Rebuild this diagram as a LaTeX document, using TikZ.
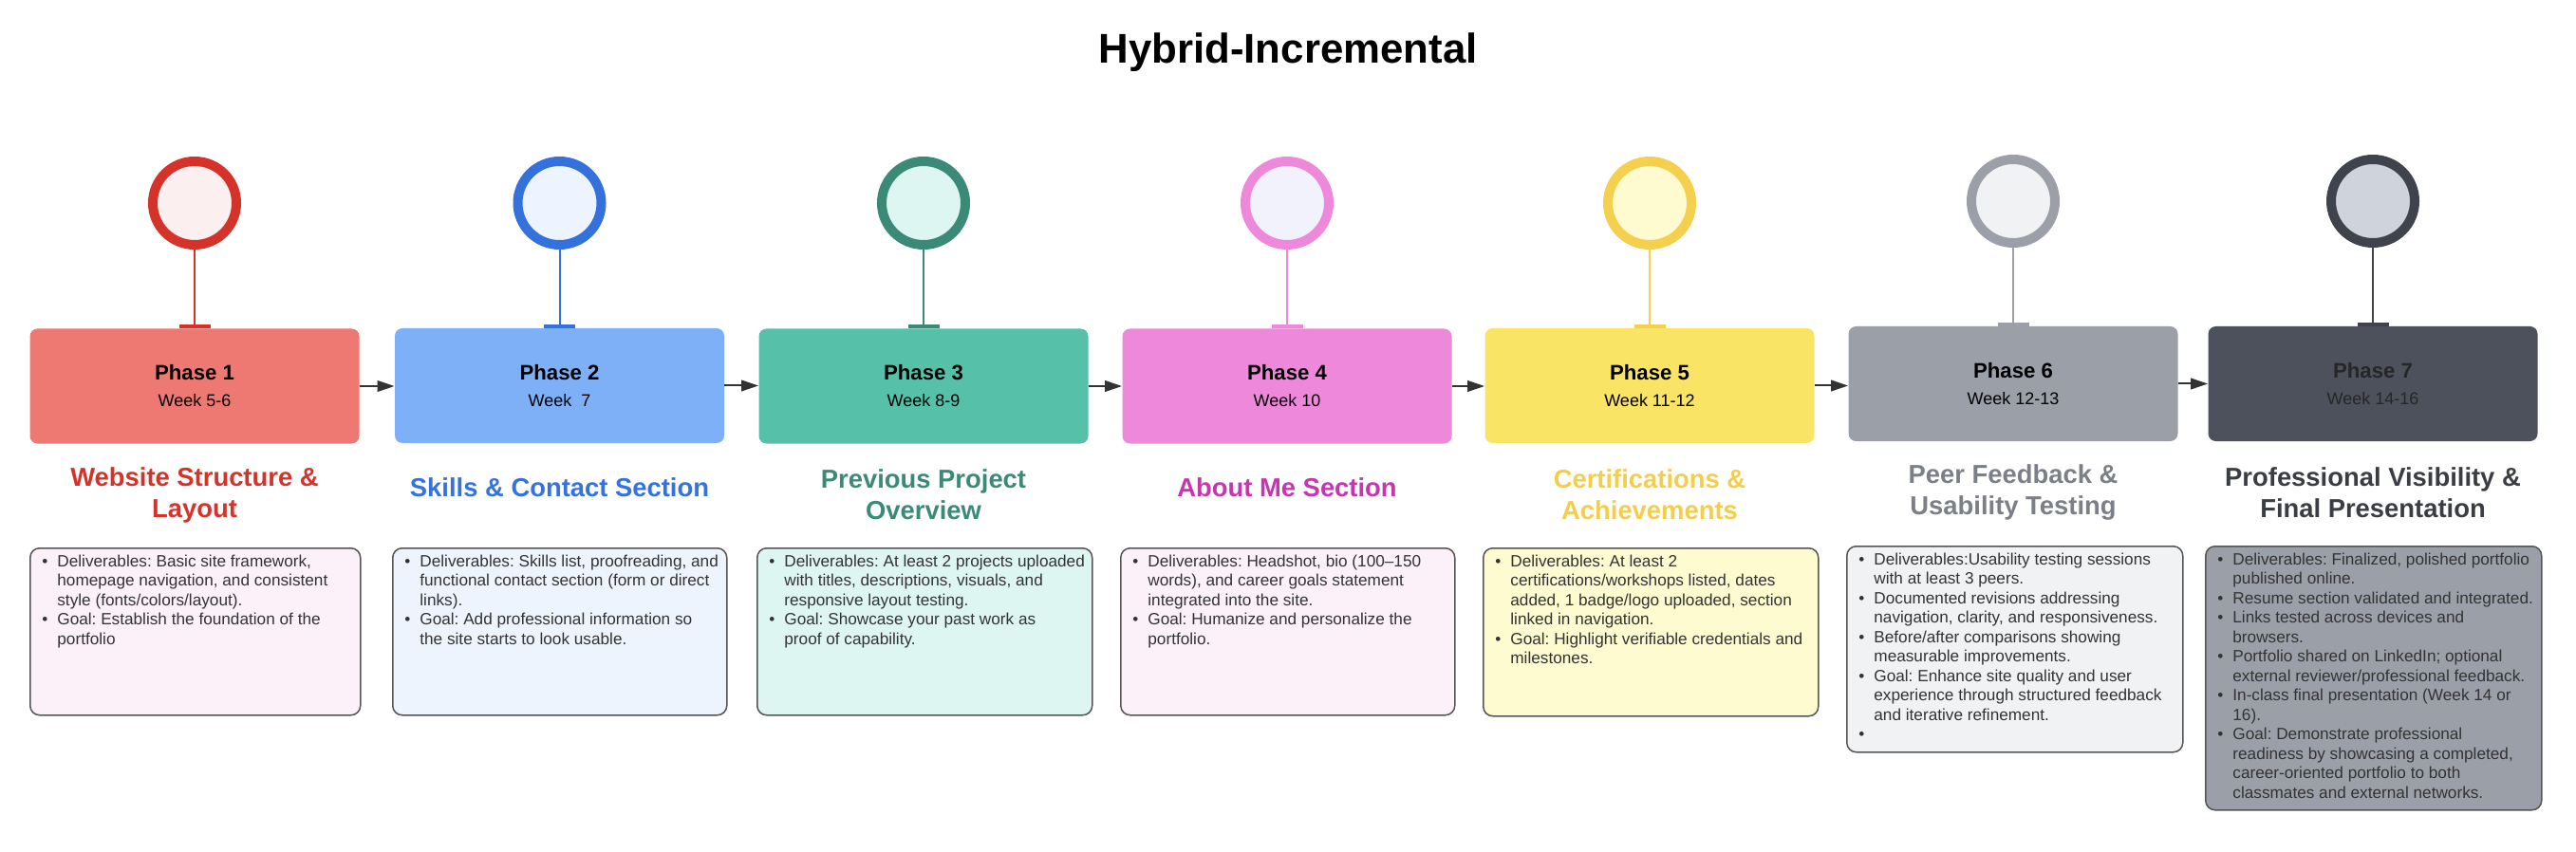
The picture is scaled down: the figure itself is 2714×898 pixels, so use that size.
\documentclass[tikz,border=0pt]{standalone}
\usepackage{fontspec}
\setmainfont{Liberation Sans}
\usetikzlibrary{arrows.meta}
% phase colours: s=stroke, f=circle fill, b=box fill, h=heading, d=desc fill
\definecolor{s1}{HTML}{D5332A}\definecolor{f1}{HTML}{FCEFEF}\definecolor{b1}{HTML}{EE7872}\definecolor{h1}{HTML}{D5332A}\definecolor{d1}{HTML}{FCF0F9}
\definecolor{s2}{HTML}{3471DC}\definecolor{f2}{HTML}{EDF4FF}\definecolor{b2}{HTML}{7EB0F8}\definecolor{h2}{HTML}{3572DD}\definecolor{d2}{HTML}{EEF4FE}
\definecolor{s3}{HTML}{3A8A77}\definecolor{f3}{HTML}{DEF6F2}\definecolor{b3}{HTML}{57C0A9}\definecolor{h3}{HTML}{3A8A77}\definecolor{d3}{HTML}{DDF6F2}
\definecolor{s4}{HTML}{EE88DA}\definecolor{f4}{HTML}{F2F2FD}\definecolor{b4}{HTML}{EE88DB}\definecolor{h4}{HTML}{C636B0}\definecolor{d4}{HTML}{FCF0F9}
\definecolor{s5}{HTML}{F5D04E}\definecolor{f5}{HTML}{FEFBD0}\definecolor{b5}{HTML}{FAE466}\definecolor{h5}{HTML}{F4CE4A}\definecolor{d5}{HTML}{FDFBCF}
\definecolor{s6}{HTML}{9B9FA7}\definecolor{f6}{HTML}{F1F2F4}\definecolor{b6}{HTML}{9B9FA8}\definecolor{h6}{HTML}{7B7F88}\definecolor{d6}{HTML}{F1F2F4}
\definecolor{s7}{HTML}{3F434B}\definecolor{f7}{HTML}{CFD3DC}\definecolor{b7}{HTML}{4D515B}\definecolor{h7}{HTML}{3A3D44}\definecolor{d7}{HTML}{9B9FA8}
\definecolor{arrowgray}{HTML}{333333}
\definecolor{txtgray}{HTML}{333333}
\definecolor{bordergray}{HTML}{555555}
\frenchspacing
\newcommand\bl{\makebox[8pt][l]{•}}
\newcommand\cl{\hspace*{8pt}}
\newcommand\dtext[1]{\parbox[t]{250pt}{\frenchspacing\raggedright #1}}
\begin{document}
\begin{tikzpicture}[x=0.5pt,y=-0.5pt,
  titlenode/.style={font=\bfseries\fontsize{21.9pt}{26pt}\selectfont, inner sep=0},
  milestone/.style={circle, line width=5pt, minimum size=44pt, inner sep=0},
  phasebox/.style={rectangle, rounded corners=4pt, minimum width=173.5pt, minimum height=60.5pt, inner sep=0, align=center, font=\fontsize{9pt}{14pt}\selectfont},
  stemline/.style={line width=1pt, -{Bar[width=16.5pt,line width=1.8pt]}},
  arr/.style={draw=arrowgray, line width=1pt, -{Triangle[length=9pt,width=5.8pt]}},
  heading/.style={font=\bfseries\fontsize{13.7pt}{16.5pt}\selectfont, align=center, inner sep=0},
  descbox/.style={rectangle, draw=bordergray, line width=0.75pt, rounded corners=5pt, anchor=north west, inner sep=0},
  desctext/.style={anchor=base west, inner sep=0, text=txtgray, font=\fontsize{8.6pt}{10.25pt}\selectfont}
]
\useasboundingbox[fill=white] (0,0) rectangle (2714,898);

\node[titlenode, anchor=base] (title) at (1357,67) {Hybrid-Incremental};

% milestones (circles)
\node[milestone, draw=s1, fill=f1] (c1) at (205,214) {};
\node[milestone, draw=s2, fill=f2] (c2) at (589.5,214) {};
\node[milestone, draw=s3, fill=f3] (c3) at (973,214) {};
\node[milestone, draw=s4, fill=f4] (c4) at (1356,214) {};
\node[milestone, draw=s5, fill=f5] (c5) at (1738,214) {};
\node[milestone, draw=s6, fill=f6] (c6) at (2121,212) {};
\node[milestone, draw=s7, fill=f7] (c7) at (2500,212) {};

% phase boxes
\node[phasebox, fill=b1] (p1) at (205,407) {{\bfseries\fontsize{11.1pt}{14pt}\selectfont Phase 1}\\Week 5-6};
\node[phasebox, fill=b2] (p2) at (589.5,406.5) {{\bfseries\fontsize{11.1pt}{14pt}\selectfont Phase 2}\\Week\ \ 7};
\node[phasebox, fill=b3] (p3) at (973,407) {{\bfseries\fontsize{11.1pt}{14pt}\selectfont Phase 3}\\Week 8-9};
\node[phasebox, fill=b4] (p4) at (1356,407) {{\bfseries\fontsize{11.1pt}{14pt}\selectfont Phase 4}\\Week 10};
\node[phasebox, fill=b5] (p5) at (1738,406.5) {{\bfseries\fontsize{11.1pt}{14pt}\selectfont Phase 5}\\Week 11-12};
\node[phasebox, fill=b6] (p6) at (2121,404.5) {{\bfseries\fontsize{11.1pt}{14pt}\selectfont Phase 6}\\Week 12-13};
\node[phasebox, fill=b7, text=black!85] (p7) at (2500,404.5) {{\bfseries\fontsize{11.1pt}{14pt}\selectfont Phase 7}\\Week 14-16};

% stems
\draw[stemline, draw=s1] (c1.south) -- (p1.north);
\draw[stemline, draw=s2] (c2.south) -- (p2.north);
\draw[stemline, draw=s3] (c3.south) -- (p3.north);
\draw[stemline, draw=s4] (c4.south) -- (p4.north);
\draw[stemline, draw=s5] (c5.south) -- (p5.north);
\draw[stemline, draw=s6] (c6.south) -- (p6.north);
\draw[stemline, draw=s7] (c7.south) -- (p7.north);

% arrows between phases
\draw[arr] (p1.east) -- (p1.east -| p2.west);
\draw[arr] (p2.east) -- (p2.east -| p3.west);
\draw[arr] (p3.east) -- (p3.east -| p4.west);
\draw[arr] (p4.east) -- (p4.east -| p5.west);
\draw[arr] (p5.east) -- (p5.east -| p6.west);
\draw[arr] (p6.east) -- (p6.east -| p7.west);

% headings
\node[heading, text=h1] (h1n) at (205,521.5) {Website Structure \&\\Layout};
\node[heading, text=h2] (h2n) at (589.5,514) {Skills \& Contact Section};
\node[heading, text=h3] (h3n) at (973,521) {Previous Project\\Overview};
\node[heading, text=h4] (h4n) at (1356,514) {About Me Section};
\node[heading, text=h5] (h5n) at (1738,521) {Certifications \&\\Achievements};
\node[heading, text=h6] (h6n) at (2121,519) {Peer Feedback \&\\Usability Testing};
\node[heading, text=h7] (h7n) at (2500,519) {Professional Visibility \&\\Final Presentation};

% description boxes
\node[descbox, fill=d1, minimum width=174pt, minimum height=88pt] (d1n) at (31,577) {};
\node[descbox, fill=d2, minimum width=176pt, minimum height=88pt] (d2n) at (413,577) {};
\node[descbox, fill=d3, minimum width=176.5pt, minimum height=88pt] (d3n) at (797,577) {};
\node[descbox, fill=d4, minimum width=176pt, minimum height=88pt] (d4n) at (1180,577) {};
\node[descbox, fill=d5, minimum width=176.5pt, minimum height=88.5pt] (d5n) at (1562,577) {};
\node[descbox, fill=d6, minimum width=177pt, minimum height=108.5pt] (d6n) at (1945,575) {};
\node[descbox, fill=d7, minimum width=177pt, minimum height=139pt] (d7n) at (2323,575) {};

% description texts
\node[desctext] (t1) at (44,597) {\dtext{\bl Deliverables: Basic site framework,\\
\cl homepage navigation, and consistent\\
\cl style (fonts/colors/layout).\\
\bl Goal: Establish the foundation of the\\
\cl portfolio}};
\node[desctext] (t2) at (426,597) {\dtext{\bl Deliverables: Skills list, proofreading, and\\
\cl functional contact section (form or direct\\
\cl links).\\
\bl Goal: Add professional information so\\
\cl the site starts to look usable.}};
\node[desctext] (t3) at (810,597) {\dtext{\bl Deliverables: At least 2 projects uploaded\\
\cl with titles, descriptions, visuals, and\\
\cl responsive layout testing.\\
\bl Goal: Showcase your past work as\\
\cl proof of capability.}};
\node[desctext] (t4) at (1193,597) {\dtext{\bl Deliverables: Headshot, bio (100–150\\
\cl words), and career goals statement\\
\cl integrated into the site.\\
\bl Goal: Humanize and personalize the\\
\cl portfolio.}};
\node[desctext] (t5) at (1575,597) {\dtext{\bl Deliverables: At least 2\\
\cl certifications/workshops listed, dates\\
\cl added, 1 badge/logo uploaded, section\\
\cl linked in navigation.\\
\bl Goal: Highlight verifiable credentials and\\
\cl milestones.}};
\node[desctext] (t6) at (1958,595) {\dtext{\bl Deliverables:Usability testing sessions\\
\cl with at least 3 peers.\\
\bl Documented revisions addressing\\
\cl navigation, clarity, and responsiveness.\\
\bl Before/after comparisons showing\\
\cl measurable improvements.\\
\bl Goal: Enhance site quality and user\\
\cl experience through structured feedback\\
\cl and iterative refinement.\\
\bl}};
\node[desctext] (t7) at (2336,595) {\dtext{\bl Deliverables: Finalized, polished portfolio\\
\cl published online.\\
\bl Resume section validated and integrated.\\
\bl Links tested across devices and\\
\cl browsers.\\
\bl Portfolio shared on LinkedIn; optional\\
\cl external reviewer/professional feedback.\\
\bl In-class final presentation (Week 14 or\\
\cl 16).\\
\bl Goal: Demonstrate professional\\
\cl readiness by showcasing a completed,\\
\cl career-oriented portfolio to both\\
\cl classmates and external networks.}};
\end{tikzpicture}
\end{document}
